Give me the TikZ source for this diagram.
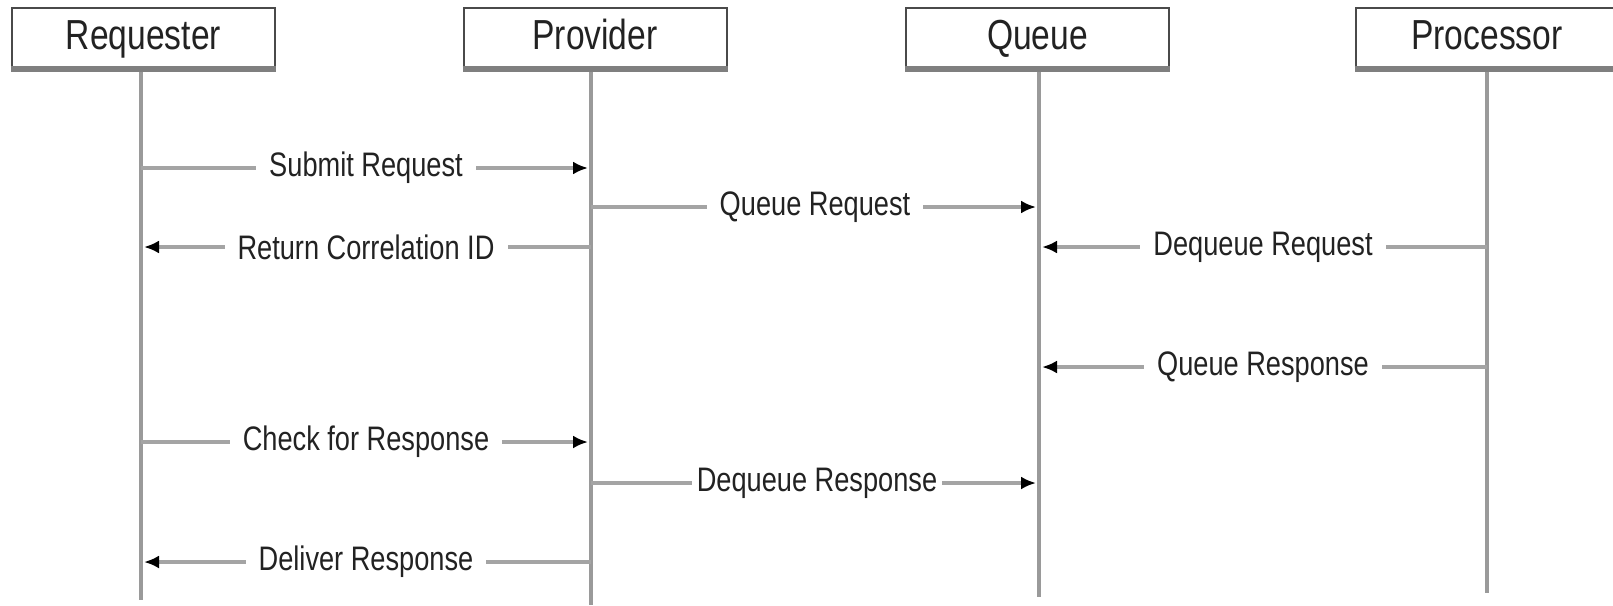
\documentclass[tikz,border=0pt]{standalone}
\usepackage{fontspec}
\setmainfont{Liberation Sans}
\usetikzlibrary{arrows.meta}
\definecolor{boxline}{HTML}{4A4A4A}
\definecolor{boxshadow}{HTML}{7F7F7F}
\definecolor{lifeg}{HTML}{9A9A9A}
\definecolor{msgg}{HTML}{A4A4A4}
\definecolor{txt}{HTML}{222222}
\newcommand{\narrow}[1]{\scalebox{0.8}[1]{#1}}
\tikzset{
  partbox/.style={draw=boxline, line width=2pt, fill=white, minimum width=263pt, minimum height=60pt,
     inner sep=0pt, text=txt, font=\fontsize{42}{44}\selectfont, text height=31pt, text depth=8pt},
  lifeln/.style={draw=lifeg, line width=4.5pt},
  msg/.style={draw=msgg, line width=4pt, -{Latex[length=15pt,width=13pt,color=black]}, shorten >=3pt},
  msglbl/.style={fill=white, inner xsep=13pt, inner ysep=2pt, text=txt, font=\fontsize{34}{36}\selectfont},
}
\begin{document}
\begin{tikzpicture}[x=1pt,y=-1pt]
\useasboundingbox (0,0) rectangle (1613,605);
% participants
\node[partbox] (req)  at (143.5,38) {\narrow{Requester}};
\node[partbox] (prov) at (595,38) {\narrow{Provider}};
\node[partbox] (que)  at (1037.5,38) {\narrow{Queue}};
\node[partbox] (proc) at (1487,38) {\narrow{Processor}};
% shadow bottom edges
\foreach \n in {req,prov,que,proc}{
  \draw[boxshadow, line width=6pt] (\n.south west) -- (\n.south east);
}
% lifeline ends
\coordinate (reqE)  at (141,600);
\coordinate (provE) at (591,605);
\coordinate (queE)  at (1039,597);
\coordinate (procE) at (1487,593);
\draw[lifeln] ([yshift=-3pt]req.south -| reqE) -- (reqE);
\draw[lifeln] ([yshift=-3pt]prov.south -| provE) -- (provE);
\draw[lifeln] ([yshift=-3pt]que.south -| queE) -- (queE);
\draw[lifeln] ([yshift=-3pt]proc.south -| procE) -- (procE);
% message rows
\coordinate (m1) at (0,168);
\coordinate (m2) at (0,207);
\coordinate (m3) at (0,247);
\coordinate (m4) at (0,367);
\coordinate (m5) at (0,442);
\coordinate (m6) at (0,483);
\coordinate (m7) at (0,562);
% messages
\draw[msg] (reqE |- m1) -- node[msglbl]{\narrow{Submit Request}} (provE |- m1);
\draw[msg] (provE |- m2) -- node[msglbl]{\narrow{Queue Request}} (queE |- m2);
\draw[msg] (provE |- m3) -- node[msglbl]{\narrow{Return Correlation ID}} (reqE |- m3);
\draw[msg] (procE |- m3) -- node[msglbl]{\narrow{Dequeue Request}} (queE |- m3);
\draw[msg] (procE |- m4) -- node[msglbl]{\narrow{Queue Response}} (queE |- m4);
\draw[msg] (reqE |- m5) -- node[msglbl]{\narrow{Check for Response}} (provE |- m5);
\draw[msg] (provE |- m6) -- node[msglbl, inner xsep=5pt, xshift=2pt]{\narrow{Dequeue Response}} (queE |- m6);
\draw[msg] (provE |- m7) -- node[msglbl]{\narrow{Deliver Response}} (reqE |- m7);
\end{tikzpicture}
\end{document}
